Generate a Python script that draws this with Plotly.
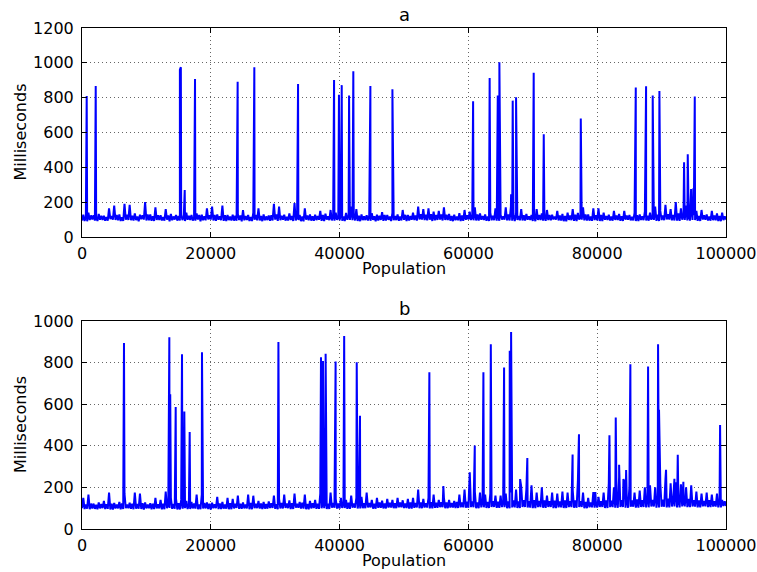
import plotly.graph_objects as go

# ---------------- data ----------------
STEP = 200  # spacing of the baseline samples along Population

# panel a: baseline samples (every 200 individuals, 0..100000)
base_a = [
    95, 128, 92, 118, 90, 140, 97, 124, 100, 125, 94, 112, 92, 133, 99, 121, 98, 122, 93, 115,
    94, 165, 103, 120, 100, 180, 98, 126, 96, 130, 92, 113, 92, 190, 99, 128, 98, 185, 96, 122,
    95, 135, 97, 117, 90, 128, 102, 124, 100, 200, 95, 130, 96, 130, 93, 119, 92, 170, 98, 125,
    98, 125, 95, 114, 94, 160, 100, 123, 90, 132, 96, 118, 100, 126, 94, 121, 95, 130, 97, 116,
    92, 140, 99, 122, 98, 127, 94, 115, 94, 135, 100, 126, 90, 128, 96, 119, 96, 165, 101, 124,
    100, 175, 95, 127, 93, 130, 99, 118, 97, 180, 93, 125, 91, 126, 97, 117, 95, 128, 94, 122,
    94, 133, 98, 124, 90, 155, 96, 121, 98, 126, 92, 114, 92, 140, 99, 127, 96, 165, 95, 120,
    91, 130, 96, 118, 97, 124, 93, 125, 95, 190, 100, 130, 93, 175, 97, 122, 99, 128, 94, 116,
    95, 135, 98, 121, 92, 195, 95, 128, 98, 126, 91, 117, 90, 165, 99, 124, 96, 130, 94, 119,
    93, 128, 97, 120, 99, 150, 93, 126, 91, 134, 100, 118, 97, 155, 95, 123, 94, 140, 98, 121,
    96, 132, 93, 117, 92, 138, 99, 125, 98, 175, 96, 130, 95, 160, 92, 122, 91, 130, 97, 118,
    97, 125, 94, 124, 93, 136, 98, 119, 90, 128, 95, 122, 98, 142, 93, 126, 94, 126, 99, 117,
    92, 138, 96, 121, 97, 130, 93, 118, 95, 155, 99, 127, 91, 127, 95, 120, 99, 140, 97, 124,
    94, 175, 101, 130, 100, 160, 97, 128, 96, 165, 99, 131, 92, 145, 96, 126, 98, 150, 100, 129,
    95, 170, 98, 128, 97, 133, 94, 121, 91, 128, 96, 117, 96, 137, 92, 123, 93, 155, 99, 125,
    100, 145, 97, 124, 96, 170, 95, 129, 94, 135, 99, 120, 98, 130, 93, 118, 92, 140, 96, 122,
    97, 165, 94, 126, 93, 128, 100, 119, 99, 170, 96, 130, 95, 175, 93, 127, 92, 140, 98, 121,
    96, 160, 95, 125, 94, 132, 99, 118, 98, 127, 92, 122, 91, 160, 98, 126, 97, 135, 94, 119,
    93, 155, 97, 127, 96, 128, 101, 117, 100, 150, 95, 124, 94, 133, 91, 120, 90, 140, 98, 123,
    97, 160, 93, 128, 92, 138, 100, 121, 99, 170, 96, 129, 95, 130, 94, 118, 93, 165, 97, 125,
    96, 165, 92, 127, 91, 140, 99, 120, 98, 128, 95, 117, 94, 150, 98, 124, 97, 133, 93, 119,
    92, 150, 100, 123, 99, 126, 96, 116, 95, 138, 92, 125, 91, 130, 98, 118, 97, 145, 95, 122,
    94, 140, 99, 120, 98, 175, 93, 128, 92, 150, 97, 124, 96, 185, 101, 131, 100, 160, 96, 127,
    95, 200, 94, 135, 93, 165, 99, 126, 98, 180, 95, 129, 94, 170, 98, 125, 97, 150, 93, 121,
    92, 155, 100, 124, 99, 130, 95, 118, 94, 150, 97, 123, 96, 135, 92, 120, 91, 140, 97, 119,
    100,
]

# panel a: spikes (population, milliseconds)
spike_a_x = [730, 2130, 15200, 15350, 15950, 17550, 24170, 26760, 33550,
             39140, 39900, 40330, 41470, 42130, 44780, 48200, 60730, 63300,
             64560, 64810, 66630, 66880, 67400, 70140, 71700, 77450, 85990,
             87590, 88620, 89660, 92090, 93490, 94060, 94580, 94940, 95150]
spike_a_y = [810, 867, 960, 975, 270, 907, 892, 975, 878,
             901, 817, 872, 813, 951, 867, 848, 779, 913,
             813, 1003, 245, 783, 802, 943, 590, 681, 859,
             865, 813, 838, 199, 429, 475, 276, 280, 806]

# panel b: baseline samples
base_b = [
    100, 150, 96, 118, 98, 165, 95, 122, 98, 122, 97, 116, 95, 128, 99, 120, 100, 135, 96, 119,
    97, 175, 94, 121, 94, 125, 99, 117, 99, 130, 95, 123, 96, 170, 100, 118, 100, 126, 97, 121,
    95, 175, 98, 120, 98, 170, 96, 124, 93, 128, 99, 117, 100, 124, 95, 122, 96, 150, 99, 119,
    99, 140, 95, 121, 95, 180, 100, 126, 101, 150, 97, 120, 97, 145, 94, 124, 94, 140, 98, 118,
    100, 135, 96, 120, 96, 130, 99, 122, 98, 165, 95, 118, 95, 165, 99, 125, 99, 128, 96, 121,
    94, 126, 100, 119, 100, 155, 96, 123, 96, 130, 98, 117, 98, 150, 95, 124, 95, 145, 99, 121,
    101, 160, 97, 122, 97, 128, 99, 118, 99, 165, 95, 125, 95, 160, 100, 121, 100, 135, 98, 123,
    96, 130, 98, 120, 98, 132, 101, 124, 101, 160, 97, 119, 95, 145, 99, 125, 99, 165, 101, 122,
    100, 138, 96, 124, 96, 170, 102, 121, 102, 130, 98, 126, 98, 165, 95, 120, 95, 135, 99, 124,
    101, 140, 97, 122, 97, 170, 100, 126, 100, 135, 96, 121, 96, 175, 102, 125, 102, 145, 98, 123,
    98, 150, 101, 124, 101, 140, 97, 127, 97, 160, 103, 122, 103, 150, 99, 126, 99, 155, 100, 124,
    100, 175, 104, 125, 104, 140, 98, 121, 98, 150, 102, 127, 102, 136, 99, 123, 99, 145, 103, 126,
    103, 140, 100, 124, 100, 150, 104, 128, 104, 138, 101, 123, 101, 145, 98, 127, 98, 150, 102, 125,
    104, 190, 100, 128, 100, 145, 103, 124, 103, 150, 99, 129, 99, 165, 102, 126, 102, 140, 105, 128,
    105, 150, 100, 127, 100, 140, 103, 125, 103, 135, 101, 130, 101, 165, 104, 128, 104, 190, 102, 131,
    102, 220, 105, 133, 105, 180, 100, 128, 100, 175, 104, 135, 104, 165, 101, 130, 101, 170, 106, 134,
    106, 160, 102, 131, 102, 160, 105, 136, 105, 170, 100, 132, 100, 175, 104, 137, 104, 190, 101, 133,
    101, 205, 106, 138, 106, 190, 103, 134, 103, 210, 100, 139, 100, 175, 105, 135, 105, 200, 102, 137,
    102, 160, 106, 133, 106, 175, 100, 136, 100, 170, 104, 132, 104, 180, 101, 137, 101, 175, 105, 134,
    105, 185, 102, 138, 102, 230, 106, 133, 106, 175, 100, 130, 100, 150, 104, 128, 104, 178, 103, 126,
    103, 155, 106, 134, 106, 175, 101, 138, 101, 220, 105, 136, 105, 200, 102, 140, 102, 250, 106, 138,
    106, 230, 102, 141, 102, 200, 107, 137, 107, 175, 103, 142, 103, 185, 106, 139, 106, 200, 104, 143,
    104, 210, 108, 140, 108, 200, 103, 145, 103, 220, 107, 141, 107, 240, 104, 146, 104, 220, 108, 142,
    108, 225, 104, 144, 104, 215, 109, 140, 109, 200, 105, 145, 105, 210, 108, 139, 108, 180, 104, 137,
    104, 170, 109, 135, 109, 175, 105, 138, 105, 165, 108, 133, 108, 170, 104, 136, 104, 140, 110, 134,
    110,
]

# panel b: spikes
spike_b_x = [6520, 13560, 13700, 14550, 15530, 15890, 16720, 18630, 30500,
             37110, 37420, 37830, 39380, 40710, 42660, 43170, 53940, 56110,
             60210, 60990, 62330, 63480, 65540, 66420, 66630, 68030, 69150,
             76180, 77170, 79710, 81900, 82880, 83400, 84070, 84490, 85150,
             87900, 89450, 89600, 90690, 91990, 92510, 93380, 99080]
spike_b_y = [894, 922, 648, 586, 840, 565, 466, 850, 899,
             826, 808, 843, 805, 928, 802, 544, 754, 206,
             273, 401, 754, 888, 776, 857, 947, 240, 341,
             358, 456, 178, 451, 536, 309, 240, 283, 792,
             781, 888, 573, 285, 241, 357, 227, 500]

x_ticks = [0, 20000, 40000, 60000, 80000, 100000]
y_ticks_a = [0, 200, 400, 600, 800, 1000, 1200]
y_ticks_b = [0, 200, 400, 600, 800, 1000]
titles = ["a", "b"]
x_label = "Population"
y_label = "Milliseconds"


def merge(base, sx, sy):
    pts = [(i * STEP, v) for i, v in enumerate(base)] + list(zip(sx, sy))
    pts.sort(key=lambda p: p[0])
    return [p[0] for p in pts], [p[1] for p in pts]


xa, ya = merge(base_a, spike_a_x, spike_a_y)
xb, yb = merge(base_b, spike_b_x, spike_b_y)

# ---------------- figure ----------------
FONT = "DejaVu Sans"
W, H = 757, 572
ML, MR, MT, MB = 82, 31, 28, 43
PH = H - MT - MB
dom_a = [(H - MB - 237) / PH, 1.0]
dom_b = [0.0, (H - MB - 321) / PH]

fig = go.Figure()
fig.add_trace(go.Scatter(x=xa, y=ya, mode="lines", xaxis="x", yaxis="y",
                         line=dict(color="#0000ff", width=2), showlegend=False))
fig.add_trace(go.Scatter(x=xb, y=yb, mode="lines", xaxis="x2", yaxis="y2",
                         line=dict(color="#0000ff", width=2), showlegend=False))

common_axis = dict(
    showline=True, linecolor="black", linewidth=1, mirror="ticks",
    ticks="inside", ticklen=5, tickcolor="black", tickwidth=1,
    showgrid=True, gridcolor="rgba(0,0,0,0.6)", griddash="1px,3px", gridwidth=1,
    zeroline=False, automargin=False,
    tickfont=dict(family=FONT, size=16, color="black"),
)

fig.update_layout(
    template="none",
    width=W, height=H,
    margin=dict(l=ML, r=MR, t=MT, b=MB),
    paper_bgcolor="white", plot_bgcolor="white",
    font=dict(family=FONT, size=16, color="black"),
    xaxis=dict(domain=[0, 1], anchor="y", range=[0, 100000], tickvals=x_ticks,
               ticktext=[str(t) for t in x_ticks], ticklabelstandoff=2, **common_axis),
    yaxis=dict(domain=dom_a, anchor="x", range=[0, 1200], tickvals=y_ticks_a,
               ticktext=[str(t) for t in y_ticks_a], ticklabelstandoff=4, **common_axis),
    xaxis2=dict(domain=[0, 1], anchor="y2", range=[0, 100000], tickvals=x_ticks,
                ticktext=[str(t) for t in x_ticks], ticklabelstandoff=2, **common_axis),
    yaxis2=dict(domain=dom_b, anchor="x2", range=[0, 1000], tickvals=y_ticks_b,
                ticktext=[str(t) for t in y_ticks_b], ticklabelstandoff=4, **common_axis),
)


def py(px):
    return (H - MB - px) / PH


def pxx(px):
    return (px - ML) / (W - ML - MR)


ann = []
for title, top, bottom in [(titles[0], 28, 237), (titles[1], 321, 529)]:
    ann.append(dict(text=title, x=0.5, y=py(top - 13), xref="paper", yref="paper",
                    showarrow=False, font=dict(family=FONT, size=18, color="black"),
                    xanchor="center", yanchor="middle"))
    ann.append(dict(text=x_label, x=0.5, y=py(bottom + 31), xref="paper", yref="paper",
                    showarrow=False, font=dict(family=FONT, size=16, color="black"),
                    xanchor="center", yanchor="middle"))
    ann.append(dict(text=y_label, x=pxx(20), y=py((top + bottom) / 2), xref="paper",
                    yref="paper", showarrow=False, textangle=-90,
                    font=dict(family=FONT, size=16, color="black"),
                    xanchor="center", yanchor="middle"))
fig.update_layout(annotations=ann)

fig.write_html("out.html")
